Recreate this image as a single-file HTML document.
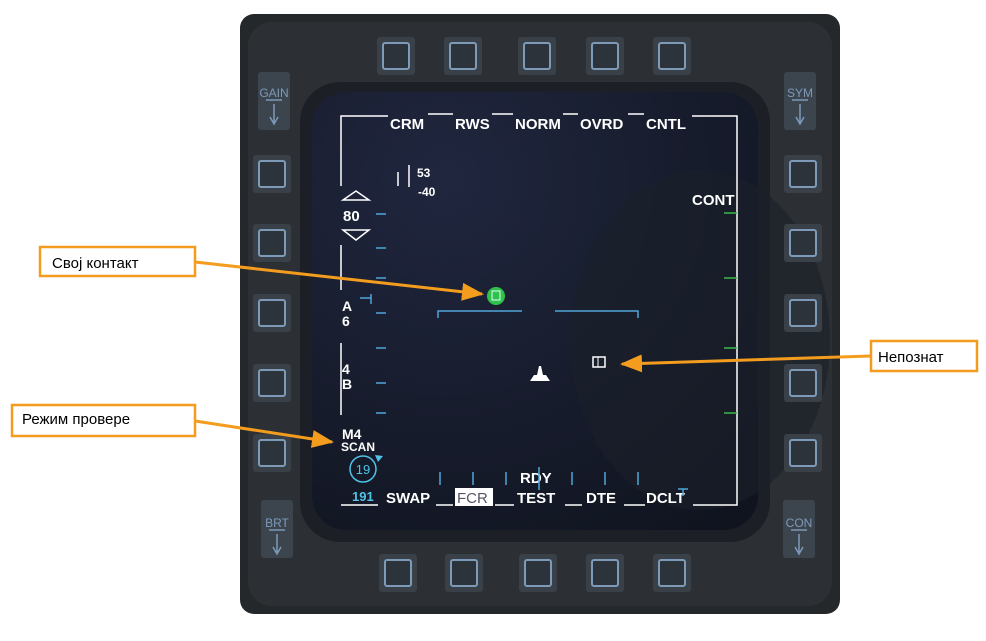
<!DOCTYPE html>
<html><head><meta charset="utf-8"><style>
html,body{margin:0;padding:0;background:#fff;}
svg{display:block}
.m{font-family:"Liberation Sans",sans-serif;font-weight:bold;fill:#fff;font-size:15px;}
.c{font-family:"Liberation Sans","Noto Sans CJK SC",sans-serif;font-size:15px;fill:#000}
</style></head><body>
<svg width="986" height="641" viewBox="0 0 986 641">
<defs>
<radialGradient id="sc" cx="0.3" cy="0.2" r="1">
<stop offset="0" stop-color="#20263e"/><stop offset="1" stop-color="#10141f"/></radialGradient>
<marker id="ar" markerWidth="22" markerHeight="22" refX="20" refY="11" orient="auto" markerUnits="userSpaceOnUse"><path d="M0,2 L22,11 L0,20 Z" fill="#f39c1e"/></marker>
<g id="b"><rect x="-19" y="-19" width="38" height="38" rx="3" fill="#3a4048"/><rect x="-13" y="-13" width="26" height="26" rx="2" fill="#2c333b" stroke="#7d9ab8" stroke-width="2"/></g>
</defs>
<rect x="240" y="14" width="600" height="600" rx="14" fill="#25282b"/>
<rect x="248" y="22" width="584" height="584" rx="24" fill="#2c3034"/>
<rect x="300" y="82" width="470" height="460" rx="40" fill="#1c2026"/>
<rect x="312" y="92" width="446" height="438" rx="34" fill="url(#sc)"/>
<ellipse cx="700" cy="340" rx="130" ry="170" fill="#1a1f2a" opacity="0.6"/>
<use href="#b" x="396" y="56"/><use href="#b" x="463" y="56"/><use href="#b" x="537" y="56"/><use href="#b" x="605" y="56"/><use href="#b" x="672" y="56"/>
<use href="#b" x="398" y="573"/><use href="#b" x="464" y="573"/><use href="#b" x="538" y="573"/><use href="#b" x="605" y="573"/><use href="#b" x="672" y="573"/>
<use href="#b" x="272" y="174"/><use href="#b" x="272" y="243"/><use href="#b" x="272" y="313"/><use href="#b" x="272" y="383"/><use href="#b" x="272" y="453"/>
<use href="#b" x="803" y="174"/><use href="#b" x="803" y="243"/><use href="#b" x="803" y="313"/><use href="#b" x="803" y="383"/><use href="#b" x="803" y="453"/>
<g font-family="Liberation Sans,sans-serif" font-size="12" fill="#7d9ab8" text-anchor="middle">
<rect x="258" y="72" width="32" height="58" rx="3" fill="#3c444e"/><text x="274" y="97">GAIN</text><path d="M266,100H282M274,104V122M270,117L274,124L278,117" stroke="#7d9ab8" fill="none" stroke-width="1.5"/>
<rect x="784" y="72" width="32" height="58" rx="3" fill="#3c444e"/><text x="800" y="97">SYM</text><path d="M792,100H808M800,104V122M796,117L800,124L804,117" stroke="#7d9ab8" fill="none" stroke-width="1.5"/>
<rect x="261" y="500" width="32" height="58" rx="3" fill="#3c444e"/><text x="277" y="527">BRT</text><path d="M269,530H285M277,534V552M273,547L277,554L281,547" stroke="#7d9ab8" fill="none" stroke-width="1.5"/>
<rect x="783" y="500" width="32" height="58" rx="3" fill="#3c444e"/><text x="799" y="527">CON</text><path d="M791,530H807M799,534V552M795,547L799,554L803,547" stroke="#7d9ab8" fill="none" stroke-width="1.5"/>
</g>
<g stroke="#fff" stroke-width="1.5" fill="none">
<path d="M341,186V116H388M428,114H453M492,114H513M563,114H578M628,114H644M692,116H737V505H693M341,245V290M341,343V415M341,505H378M436,505H453M495,505H514M565,505H582M624,505H645"/>
<path d="M398,172V186M409,165V187"/>
<path d="M343,200L356,191L369,200Z M343,230L356,240L369,230Z"/>
</g>
<g class="m">
<text x="390" y="129">CRM</text><text x="455" y="129">RWS</text><text x="515" y="129">NORM</text><text x="580" y="129">OVRD</text><text x="646" y="129">CNTL</text>
<text x="692" y="205">CONT</text>
<text x="343" y="221">80</text>
<text x="417" y="177" font-size="12">53</text><text x="418" y="196" font-size="12">-40</text>
<text x="342" y="311" font-size="14">A</text><text x="342" y="326" font-size="14">6</text>
<text x="342" y="374" font-size="14">4</text><text x="342" y="389" font-size="14">B</text>
<text x="342" y="439" font-size="14">M4</text><text x="341" y="451" font-size="12">SCAN</text>
<text x="520" y="483">RDY</text>
<text x="386" y="503">SWAP</text><text x="517" y="503">TEST</text><text x="586" y="503">DTE</text><text x="646" y="503">DCLT</text>
<rect x="455" y="488" width="38" height="18" fill="#fff"/><text x="457" y="503" fill="#556" font-weight="normal">FCR</text>
<text x="352" y="501" fill="#4fc3e8" font-size="13">191</text>
</g>
<g stroke="#4fa6d8" stroke-width="1.5" fill="none">
<path d="M376,214H386M376,248H386M376,278H386M376,313H386M376,348H386M376,383H386M376,413H386"/>
<path d="M360,298H371M371,294V304"/>
<path d="M438,318V311H522M555,311H638V318"/>
<path d="M440,472V485M473,472V485M506,472V485M539,467V490M572,472V485M605,472V485M638,472V485"/>
<path d="M678,489H688M683,489V496"/>
</g>
<g stroke="#3cb84a" stroke-width="1.5"><path d="M724,213H737M724,278H737M724,348H737M724,413H737"/></g>
<circle cx="363" cy="469" r="13" fill="none" stroke="#4fc3e8" stroke-width="1.5"/>
<text x="363" y="474" text-anchor="middle" font-family="Liberation Sans,sans-serif" font-size="13" fill="#4fc3e8">19</text>
<path d="M375,455L383,456L378,462Z" fill="#4fc3e8"/>
<circle cx="496" cy="296" r="9" fill="#2ec24a"/><rect x="492" y="291" width="8" height="9" fill="none" stroke="#dff" stroke-width="1"/>
<path d="M530,381H550L546,375H543L541,366H539L537,375H534Z" fill="#fff"/>
<rect x="593" y="357" width="12" height="10" fill="none" stroke="#fff" stroke-width="1.5"/><path d="M598,357V367" stroke="#fff"/>
<g stroke="#f39c1e" stroke-width="2.5" fill="#fff">
<rect x="40" y="247" width="155" height="29"/>
<rect x="871" y="341" width="106" height="30"/>
<rect x="12" y="405" width="183" height="31"/>
</g>
<g stroke="#f39c1e" stroke-width="3" fill="none">
<path d="M195,262L482,294" marker-end="url(#ar)"/>
<path d="M871,356L622,364" marker-end="url(#ar)"/>
<path d="M195,421L332,442" marker-end="url(#ar)"/>
</g>
<text class="c" x="52" y="268">Свој контакт</text>
<text class="c" x="878" y="362">Непознат</text>
<text class="c" x="22" y="424">Режим провере</text>
</svg>
</body></html>
